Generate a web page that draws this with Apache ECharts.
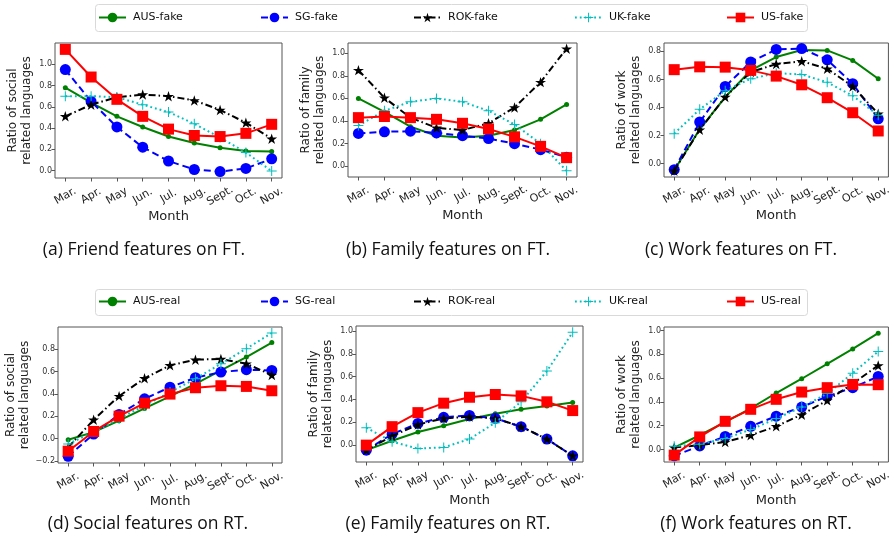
<!DOCTYPE html>
<html><head><meta charset="utf-8">
<script src="https://cdn.jsdelivr.net/npm/echarts@6/dist/echarts.min.js"></script>
<style>html,body{margin:0;padding:0;background:#fff;}#c{width:894px;height:549px;}</style>
</head><body><div id="c"></div>
<script>
const months = ['Mar.','Apr.','May','Jun.','Jul.','Aug.','Sept.','Oct.','Nov.'];
const countries = ['AUS','SG','ROK','UK','US'];

// (a) Friend features on FT
const ftFriendAUS = [0.78,0.64,0.51,0.41,0.32,0.26,0.215,0.185,0.18];
const ftFriendSG  = [0.95,0.65,0.41,0.22,0.09,0.01,-0.01,0.02,0.11];
const ftFriendROK = [0.51,0.62,0.69,0.715,0.70,0.66,0.57,0.45,0.30];
const ftFriendUK  = [0.70,0.70,0.69,0.62,0.55,0.44,0.31,0.17,-0.005];
const ftFriendUS  = [1.14,0.88,0.67,0.51,0.39,0.33,0.32,0.35,0.435];
// (b) Family features on FT
const ftFamilyAUS = [0.60,0.48,0.35,0.27,0.255,0.27,0.32,0.415,0.547];
const ftFamilySG  = [0.29,0.305,0.31,0.295,0.27,0.245,0.20,0.147,0.08];
const ftFamilyROK = [0.85,0.606,0.43,0.34,0.32,0.38,0.52,0.744,1.04];
const ftFamilyUK  = [0.36,0.49,0.57,0.60,0.57,0.49,0.37,0.20,-0.04];
const ftFamilyUS  = [0.43,0.44,0.43,0.415,0.38,0.33,0.26,0.176,0.076];
// (c) Work features on FT
const ftWorkAUS = [-0.047,0.245,0.475,0.665,0.76,0.81,0.807,0.736,0.605];
const ftWorkSG  = [-0.043,0.297,0.55,0.725,0.814,0.82,0.74,0.57,0.32];
const ftWorkROK = [-0.05,0.242,0.475,0.653,0.71,0.73,0.677,0.55,0.356];
const ftWorkUK  = [0.214,0.387,0.52,0.605,0.645,0.636,0.58,0.484,0.345];
const ftWorkUS  = [0.67,0.69,0.688,0.665,0.624,0.562,0.47,0.363,0.233];
// (d) Social features on RT
const rtSocialAUS = [-0.012,0.057,0.16,0.27,0.377,0.49,0.61,0.73,0.86];
const rtSocialSG  = [-0.16,0.04,0.215,0.356,0.46,0.545,0.596,0.617,0.61];
const rtSocialROK = [-0.08,0.168,0.38,0.54,0.656,0.707,0.713,0.67,0.57];
const rtSocialUK  = [-0.05,0.057,0.177,0.296,0.416,0.536,0.67,0.806,0.946];
const rtSocialUS  = [-0.114,0.063,0.20,0.317,0.398,0.455,0.473,0.467,0.428];
// (e) Family features on RT
const rtFamilyAUS = [-0.044,0.038,0.115,0.17,0.23,0.276,0.315,0.344,0.373];
const rtFamilySG  = [-0.044,0.097,0.19,0.244,0.26,0.235,0.162,0.053,-0.094];
const rtFamilyROK = [-0.044,0.08,0.18,0.235,0.25,0.235,0.162,0.053,-0.094];
const rtFamilyUK  = [0.153,0.03,-0.03,-0.02,0.053,0.197,0.38,0.65,0.99];
const rtFamilyUS  = [0.0,0.162,0.285,0.368,0.42,0.444,0.432,0.38,0.303];
// (f) Work features on RT
const rtWorkAUS = [0.015,0.12,0.23,0.345,0.475,0.595,0.72,0.846,0.978];
const rtWorkSG  = [-0.053,0.03,0.11,0.195,0.28,0.357,0.447,0.52,0.614];
const rtWorkROK = [0.017,0.036,0.064,0.12,0.195,0.293,0.413,0.553,0.707];
const rtWorkUK  = [0.028,0.045,0.092,0.168,0.26,0.357,0.47,0.642,0.824];
const rtWorkUS  = [-0.047,0.106,0.237,0.338,0.422,0.483,0.52,0.547,0.545];

const yTicksA = [0,0.2,0.4,0.6,0.8,1.0];
const yTicksC = [0,0.2,0.4,0.6,0.8];
const yTicksD = [-0.2,0,0.2,0.4,0.6,0.8];

const captions = ['(a) Friend features on FT.','(b) Family features on FT.','(c) Work features on FT.',
                  '(d) Social features on RT.','(e) Family features on RT.','(f) Work features on RT.'];
const yNames = ['Ratio of social\nrelated languages','Ratio of family\nrelated languages','Ratio of work\nrelated languages',
                'Ratio of social\nrelated languages','Ratio of family\nrelated languages','Ratio of work\nrelated languages'];

const panelData = [
  [ftFriendAUS,ftFriendSG,ftFriendROK,ftFriendUK,ftFriendUS],
  [ftFamilyAUS,ftFamilySG,ftFamilyROK,ftFamilyUK,ftFamilyUS],
  [ftWorkAUS,ftWorkSG,ftWorkROK,ftWorkUK,ftWorkUS],
  [rtSocialAUS,rtSocialSG,rtSocialROK,rtSocialUK,rtSocialUS],
  [rtFamilyAUS,rtFamilySG,rtFamilyROK,rtFamilyUK,rtFamilyUS],
  [rtWorkAUS,rtWorkSG,rtWorkROK,rtWorkUK,rtWorkUS]
];

const grids = [
  {left:55, top:43, width:227, height:135},
  {left:348, top:43, width:229, height:134},
  {left:664, top:43, width:226, height:134},
  {left:58, top:327, width:224, height:136},
  {left:356, top:326, width:227, height:136},
  {left:664, top:327, width:227, height:135}
];
const yRanges = [[-0.07,1.2],[-0.095,1.09],[-0.095,0.86],[-0.22,1.0],[-0.148,1.045],[-0.105,1.03]];
const yTicks = [yTicksA,yTicksA,yTicksC,yTicksD,yTicksA,yTicksA];
const captionPos = [[144,250],[448,250],[741,250],[148,524],[448,524],[756,524]];

const starPath = 'path://M100,0 L122.33,69.26 L195.11,69.1 L136.14,111.74 L158.78,180.9 L100,138 L41.22,180.9 L63.86,111.74 L4.89,69.1 L77.67,69.26 Z';
const plusPath = 'path://M9,0 H11 V9 H20 V11 H11 V20 H9 V11 H0 V9 H9 Z';

const styles = [
  {color:'#008000', type:'solid', symbol:'circle', size:5},
  {color:'#0000ff', type:[7,4], symbol:'circle', size:11},
  {color:'#000000', type:[7,3,1.5,3], symbol:starPath, size:11},
  {color:'#00bfbf', type:[1.8,3], symbol:plusPath, size:10},
  {color:'#ff0000', type:'solid', symbol:'rect', size:11}
];

const axisColor = '#555';
const option = {
  animation:false,
  backgroundColor:'#fff',
  grid: grids.map(g => Object.assign({show:true, borderColor:axisColor, borderWidth:1, backgroundColor:'transparent'}, g)),
  xAxis: grids.map((g,i) => ({
    type:'value', gridIndex:i, min:-0.4, max:8.4, position:'bottom',
    name:'Month', nameLocation:'middle', nameGap:28,
    nameTextStyle:{fontFamily:'DejaVu Sans', fontSize:13, color:'#222'},
    axisLine:{show:false, onZero:false}, splitLine:{show:false},
    axisTick:{show:true, length:3.5, lineStyle:{color:axisColor}, customValues:[0,1,2,3,4,5,6,7,8]},
    axisLabel:{show:true, customValues:[0,1,2,3,4,5,6,7,8], rotate:30, align:'center', verticalAlign:'middle', margin:18,
      fontFamily:'DejaVu Sans', fontSize:11, color:'#222', formatter: v => months[Math.round(v)]}
  })),
  yAxis: grids.map((g,i) => ({
    type:'value', gridIndex:i, min:yRanges[i][0], max:yRanges[i][1], position:'left',
    name:yNames[i], nameLocation:'middle', nameGap:21, nameRotate:90,
    nameTextStyle:{fontFamily:'DejaVu Sans', fontSize:12, color:'#222', lineHeight:14},
    axisLine:{show:false, onZero:false}, splitLine:{show:false},
    axisTick:{show:true, length:3.5, lineStyle:{color:axisColor}, customValues:yTicks[i]},
    axisLabel:{show:true, customValues:yTicks[i], margin:3, fontFamily:'DejaVu Sans', fontSize:8, color:'#333',
      formatter: v => (v < -1e-9 ? '\u2212' : '') + Math.abs(v).toFixed(1)}
  })),
  legend: [],
  series: [],
  graphic: []
};

const legendLefts = [98,260,413,574,726];
['fake','real'].forEach((suffix,row) => {
  countries.forEach((c,k) => {
    option.legend.push({
      data:[c+'-'+suffix], left:legendLefts[k], top: row===0 ? 12 : 296,
      padding:0, itemWidth:27, itemHeight:12, itemGap:0,
      textStyle:{fontFamily:'DejaVu Sans', fontSize:11, color:'#111', padding:[0,0,0,2]},
      selectedMode:false
    });
  });
});

panelData.forEach((arrs,p) => {
  const suffix = p < 3 ? 'fake' : 'real';
  arrs.forEach((arr,k) => {
    const s = styles[k];
    option.series.push({
      type:'line', name: countries[k]+'-'+suffix, xAxisIndex:p, yAxisIndex:p,
      data: arr.map((v,i) => [i, v]),
      symbol:s.symbol, symbolSize:s.size, symbolKeepAspect:true,
      showAllSymbol:true,
      lineStyle:{color:s.color, width:2, type:s.type},
      itemStyle:{color:s.color, borderWidth:0},
      emphasis:{disabled:true}, z: 2 + k
    });
  });
});

option.graphic.push({type:'rect', shape:{x:95.5, y:4.5, width:712, height:27, r:3}, style:{fill:'none', stroke:'#d9d9d9', lineWidth:1}, z:-1});
option.graphic.push({type:'rect', shape:{x:95.5, y:289.5, width:712, height:26, r:3}, style:{fill:'none', stroke:'#d9d9d9', lineWidth:1}, z:-1});
captions.forEach((t,i) => {
  option.graphic.push({type:'text', x:captionPos[i][0], y:captionPos[i][1],
    style:{text:t, fill:'#111', font:'17.5px "Open Sans"', textAlign:'center', textVerticalAlign:'middle'}});
});

const chart = echarts.init(document.getElementById('c'), null, {renderer:'canvas'});
chart.setOption(option);
</script></body></html>
